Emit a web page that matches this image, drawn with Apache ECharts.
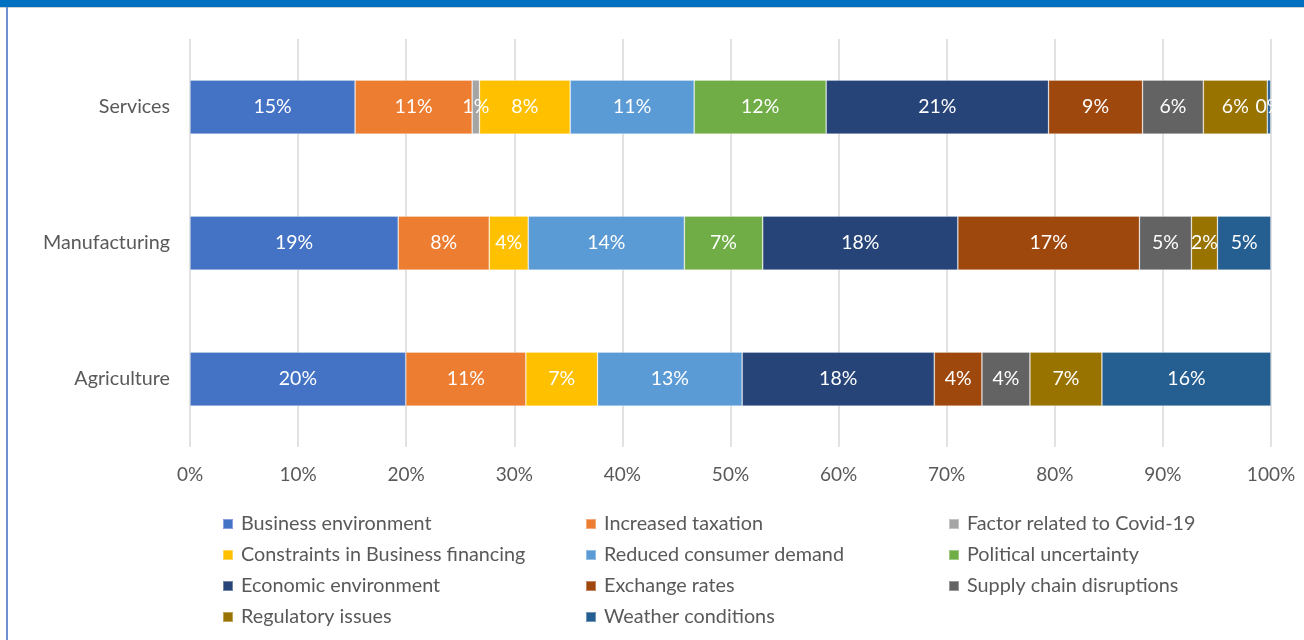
<!DOCTYPE html>
<html>
<head>
<meta charset="utf-8">
<title>Obstacles to business by sector</title>
<script src="https://cdn.jsdelivr.net/npm/echarts@6/dist/echarts.min.js"></script>
<style>
  html, body { margin: 0; padding: 0; background: #ffffff; }
  #chart { width: 1304px; height: 640px; }
</style>
</head>
<body>
<div id="chart"></div>
<script>
// Sectors (top to bottom)
const sectors = ['Services', 'Manufacturing', 'Agriculture'];

// Axis tick labels (share of responses)
const tickValues = [0, 10, 20, 30, 40, 50, 60, 70, 80, 90, 100];

// Share of each obstacle per sector, in percent: [Services, Manufacturing, Agriculture]
const businessEnvironment    = [15.27, 19.26, 19.96];
const increasedTaxation      = [10.83, 8.42, 11.11];
const covidFactor            = [0.68, null, null];
const financingConstraints   = [8.39, 3.61, 6.63];
const reducedDemand          = [11.47, 14.44, 13.38];
const politicalUncertainty   = [12.21, 7.25, null];
const economicEnvironment    = [20.57, 18.05, 17.77];
const exchangeRates          = [8.70, 16.80, 4.41];
const supplyChain            = [5.62, 4.81, 4.44];
const regulatoryIssues       = [5.92, 2.41, 6.66];
const weatherConditions      = [0.31, 4.94, 15.64];

const seriesDefs = [
  { name: 'Business environment',              data: businessEnvironment,  color: '#4472C4' },
  { name: 'Increased taxation',                data: increasedTaxation,    color: '#ED7D31' },
  { name: 'Factor related to Covid-19',        data: covidFactor,          color: '#A5A5A5' },
  { name: 'Constraints in Business financing', data: financingConstraints, color: '#FFC000' },
  { name: 'Reduced consumer demand',           data: reducedDemand,        color: '#5B9BD5' },
  { name: 'Political uncertainty',             data: politicalUncertainty, color: '#70AD47' },
  { name: 'Economic environment',              data: economicEnvironment,  color: '#264478' },
  { name: 'Exchange rates',                    data: exchangeRates,        color: '#9E480E' },
  { name: 'Supply chain disruptions',          data: supplyChain,          color: '#636363' },
  { name: 'Regulatory issues',                 data: regulatoryIssues,     color: '#997300' },
  { name: 'Weather conditions',                data: weatherConditions,    color: '#255E91' }
];

const FONT = 'Lato, "Noto Sans", sans-serif';
const TEXT_GREY = '#595959';

const legendColumns = [
  ['Business environment', 'Constraints in Business financing', 'Economic environment', 'Regulatory issues'],
  ['Increased taxation', 'Reduced consumer demand', 'Exchange rates', 'Weather conditions'],
  ['Factor related to Covid-19', 'Political uncertainty', 'Supply chain disruptions']
];
const legendLefts = [222, 585, 948];

const chart = echarts.init(document.getElementById('chart'), null, { renderer: 'canvas' });

chart.setOption({
  animation: false,
  backgroundColor: '#ffffff',
  textStyle: { fontFamily: FONT },
  graphic: [
    // frame: blue header band, thin rule beneath it, left border
    { type: 'rect', shape: { x: 0, y: 0, width: 1304, height: 7 }, style: { fill: '#0070C0' }, silent: true },
    { type: 'rect', shape: { x: 0, y: 7, width: 1304, height: 1 }, style: { fill: '#D0D0D0' }, silent: true },
    { type: 'rect', shape: { x: 6, y: 7, width: 2, height: 633 }, style: { fill: '#6F8FCF' }, silent: true }
  ],
  grid: { left: 190, right: 33, top: 39, bottom: 193, containLabel: false },
  xAxis: {
    type: 'value',
    min: tickValues[0],
    max: tickValues[tickValues.length - 1],
    interval: tickValues[1] - tickValues[0],
    axisLine: { show: false },
    axisTick: { show: false },
    axisLabel: {
      formatter: '{value}%',
      color: TEXT_GREY,
      fontSize: 19,
      margin: 18,
      fontFamily: FONT
    },
    splitLine: { show: true, lineStyle: { color: '#D9D9D9', width: 1.5 } }
  },
  yAxis: {
    type: 'category',
    data: sectors,
    inverse: true,
    axisLine: { show: false },
    axisTick: { show: false },
    axisLabel: { color: TEXT_GREY, fontSize: 19.7, margin: 20, fontFamily: FONT }
  },
  legend: legendColumns.map((items, i) => ({
    data: items,
    orient: 'vertical',
    left: legendLefts[i],
    top: 514,
    padding: 0,
    icon: 'rect',
    itemWidth: 10,
    itemHeight: 10,
    itemGap: 11,
    selectedMode: false,
    textStyle: {
      color: TEXT_GREY,
      fontSize: 19.8,
      lineHeight: 20,
      padding: [0, 0, 0, 3],
      fontFamily: FONT
    }
  })),
  series: seriesDefs.map(s => ({
    name: s.name,
    type: 'bar',
    stack: 'total',
    barWidth: 54,
    data: s.data,
    itemStyle: { color: s.color, borderColor: 'rgba(255,255,255,0.35)', borderWidth: 0.75 },
    label: {
      show: true,
      position: 'inside',
      color: '#ffffff',
      fontSize: 19.5,
      fontFamily: FONT,
      formatter: p => (p.value == null ? '' : Math.round(p.value) + '%')
    }
  }))
});
</script>
</body>
</html>
